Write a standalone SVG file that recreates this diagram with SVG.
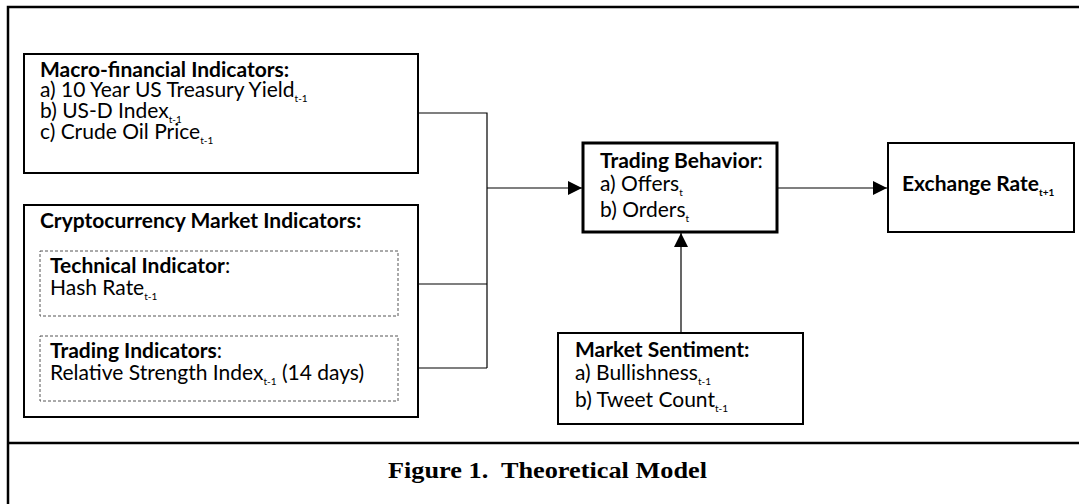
<svg xmlns="http://www.w3.org/2000/svg" width="1079" height="504" viewBox="0 0 1079 504">
<style>
.box{fill:#fff;stroke:#000;stroke-width:2}
.thick{fill:#fff;stroke:#000;stroke-width:3}
.dash{fill:none;stroke:#555;stroke-width:1;stroke-dasharray:3 2}
.ln{fill:none;stroke:#000;stroke-width:1.2}
.frame{fill:none;stroke:#000;stroke-width:2.5}
text{font-family:"Lato","Open Sans","Liberation Sans",sans-serif;font-size:21px;fill:#000}
.b{font-weight:bold}
.s{font-size:10px}
.cap{font-family:"Liberation Serif","Times New Roman",serif;font-weight:bold;font-size:24px}
</style>
<defs>
<marker id="arr" viewBox="0 0 10 10" refX="10" refY="5" markerWidth="14" markerHeight="16" markerUnits="userSpaceOnUse" orient="auto">
<path d="M0,0 L10,5 L0,10 z" fill="#000"/>
</marker>
</defs>
<g id="frame">
<path class="frame" d="M8,504 L8,7 L1079,7"/>
<path class="frame" d="M8,443 L1079,443"/>
</g>
<g id="connectors">
<path class="ln" d="M418,113 L487,113 L487,368"/>
<path class="ln" d="M398,284 L487,284"/>
<path class="ln" d="M398,368 L487,368"/>
<path class="ln" d="M487,188 L582,188" marker-end="url(#arr)"/>
<path class="ln" d="M777,188 L887,188" marker-end="url(#arr)"/>
<path class="ln" d="M681,333 L681,233" marker-end="url(#arr)"/>
</g>
<g id="macro">
<rect class="box" x="24" y="54" width="394" height="119"/>
<text x="40" y="77" class="b">Macro-financial Indicators:</text>
<text x="40" y="97">a) 10 Year US Treasury Yield<tspan class="s" dy="5">t-1</tspan></text>
<text x="40" y="118">b) US-D Index<tspan class="s" dy="5">t-1</tspan></text>
<text x="40" y="139">c) Crude Oil Price<tspan class="s" dy="5">t-1</tspan></text>
</g>
<g id="crypto">
<rect class="box" x="24" y="205" width="394" height="212"/>
<text x="40" y="228" class="b">Cryptocurrency Market Indicators:</text>
</g>
<g id="technical">
<rect class="dash" x="40" y="251" width="358" height="65"/>
<text x="50" y="273"><tspan class="b">Technical Indicator</tspan>:</text>
<text x="50" y="295">Hash Rate<tspan class="s" dy="5">t-1</tspan></text>
</g>
<g id="trading-ind">
<rect class="dash" x="40" y="336" width="358" height="65"/>
<text x="50" y="358"><tspan class="b">Trading Indicators</tspan>:</text>
<text x="50" y="380">Relative Strength Index<tspan class="s" dy="5">t-1</tspan><tspan dy="-5"> (14 days)</tspan></text>
</g>
<g id="behavior">
<rect class="thick" x="583" y="143" width="194" height="89"/>
<text x="600" y="168"><tspan class="b">Trading Behavior</tspan>:</text>
<text x="600" y="191">a) Offers<tspan class="s" dy="5">t</tspan></text>
<text x="600" y="217">b) Orders<tspan class="s" dy="5">t</tspan></text>
</g>
<g id="exchange">
<rect class="box" x="888" y="143" width="186" height="89"/>
<text x="902" y="191" class="b">Exchange Rate<tspan class="s" dy="5">t+1</tspan></text>
</g>
<g id="sentiment">
<rect class="box" x="558" y="333" width="245" height="91"/>
<text x="575" y="357" class="b">Market Sentiment:</text>
<text x="575" y="380">a) Bullishness<tspan class="s" dy="5">t-1</tspan></text>
<text x="575" y="407">b) Tweet Count<tspan class="s" dy="5">t-1</tspan></text>
</g>
<g id="caption">
<text x="388" y="478" class="cap" textLength="319" lengthAdjust="spacingAndGlyphs">Figure 1.&#160; Theoretical Model</text>
</g>
</svg>
